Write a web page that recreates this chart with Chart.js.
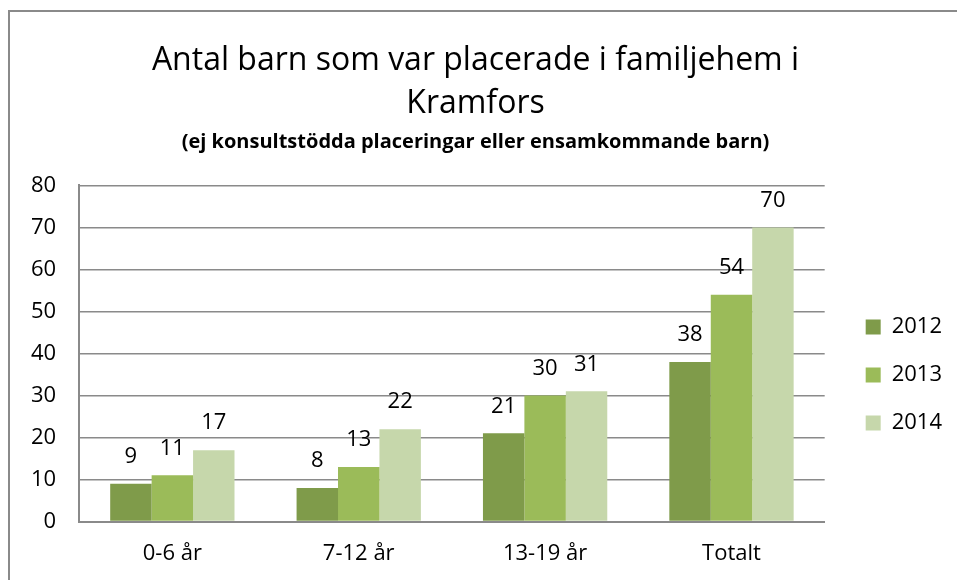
<!DOCTYPE html>
<html>
<head>
<meta charset="utf-8">
<script src="https://cdn.jsdelivr.net/npm/chart.js@4"></script>
<style>
  body { margin: 0; background: #fff; }
  #wrap { position: relative; width: 957px; height: 580px; }
  #frame { position: absolute; left: 8px; top: 10px; width: 1000px; height: 1000px;
           border-left: 2px solid #8a8a8a; border-top: 2px solid #8a8a8a; }
  canvas { position: absolute; left: 0; top: 0; }
</style>
</head>
<body>
<div id="wrap">
  <div id="frame"></div>
  <canvas id="chart" width="957" height="580"></canvas>
</div>
<script>
const categories = ['0-6 år', '7-12 år', '13-19 år', 'Totalt'];
const years = ['2012', '2013', '2014'];
const values2012 = [9, 8, 21, 38];
const values2013 = [11, 13, 30, 54];
const values2014 = [17, 22, 31, 70];
const yTicks = [0, 10, 20, 30, 40, 50, 60, 70, 80];
const colors = ['#7f9b4a', '#9bbb59', '#c6d7ab'];

const fontFamily = '"Open Sans", "Liberation Sans", sans-serif';

// draws the number above every bar
const valueLabels = {
  id: 'valueLabels',
  afterDatasetsDraw(chart) {
    const ctx = chart.ctx;
    ctx.save();
    ctx.font = '22px ' + fontFamily;
    ctx.fillStyle = '#000';
    ctx.textAlign = 'center';
    ctx.textBaseline = 'middle';
    chart.data.datasets.forEach((ds, i) => {
      chart.getDatasetMeta(i).data.forEach((bar, j) => {
        ctx.fillText(ds.data[j], bar.x, bar.y - 27);
      });
    });
    ctx.restore();
  }
};

// leave a wider gap between the plot and the legend
const legendGap = {
  id: 'legendGap',
  beforeLayout(chart) {
    const lg = chart.legend;
    if (lg && !lg._gapPatched) {
      const fit = lg.fit;
      lg.fit = function () { fit.call(this); this.width += 6; };
      lg._gapPatched = true;
    }
  },
  afterLayout(chart) {
    chart.legend.left += 15;
    chart.legend.right += 15;
  }
};

const allSeries = [values2012, values2013, values2014];

new Chart(document.getElementById('chart'), {
  type: 'bar',
  data: {
    labels: categories,
    datasets: years.map((y, i) => ({
      label: y,
      data: allSeries[i],
      backgroundColor: colors[i],
      borderWidth: 0,
      categoryPercentage: 0.667,
      barPercentage: 1.0
    }))
  },
  options: {
    responsive: false,
    animation: false,
    layout: { padding: { left: 8, right: 14, top: 31, bottom: -6 } },
    plugins: {
      title: {
        display: true,
        text: ['Antal barn som var placerade i familjehem i', 'Kramfors'],
        font: { family: fontFamily, size: 32, weight: 'normal', lineHeight: 1.35 },
        color: '#000',
        padding: { top: 8, bottom: 5 }
      },
      subtitle: {
        display: true,
        text: '(ej konsultstödda placeringar eller ensamkommande barn)',
        font: { family: fontFamily, size: 20, weight: 'bold' },
        color: '#000',
        padding: { top: 0, bottom: 31 }
      },
      legend: {
        position: 'right',
        align: 'center',
        title: { display: true, text: ' ', padding: { top: 49, bottom: 60 }, font: { size: 20 } },
        labels: {
          font: { family: fontFamily, size: 22 },
          color: '#000',
          boxWidth: 15,
          boxHeight: 15,
          padding: 26
        }
      },
      tooltip: { enabled: false }
    },
    scales: {
      x: {
        grid: { display: false, drawTicks: false },
        border: { color: '#8a8a8a', width: 2 },
        ticks: { font: { family: fontFamily, size: 22 }, color: '#000', padding: 19 }
      },
      y: {
        min: 0,
        max: 80,
        afterBuildTicks(axis) { axis.ticks = yTicks.map(v => ({ value: v })); },
        grid: { color: '#8a8a8a', lineWidth: 1.5, drawTicks: false },
        border: { color: '#8a8a8a', width: 2 },
        ticks: { font: { family: fontFamily, size: 22 }, color: '#000', padding: 23 }
      }
    }
  },
  plugins: [valueLabels, legendGap]
});
</script>
</body>
</html>
